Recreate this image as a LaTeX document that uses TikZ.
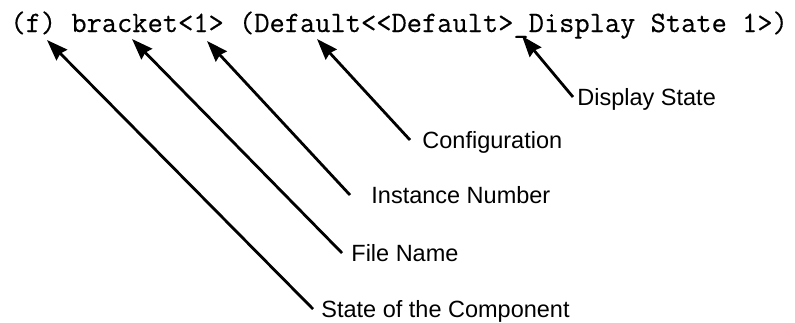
\documentclass[tikz,border=0pt]{standalone}
\usepackage{fontspec}
\setsansfont{Liberation Sans}
\newfontfamily\codefont{Latin Modern Mono}[FakeBold=0.4]
\usetikzlibrary{arrows.meta}
\tikzset{
  every picture/.style={line width=2.8pt},
  code/.style={font=\codefont\fontsize{29.6}{32}\selectfont, inner sep=0pt},
  callout/.style={font=\sffamily\fontsize{23.5}{26}\selectfont, anchor=west, inner ysep=0pt, text height=17pt, text depth=0pt},
  pointer/.style={-{Stealth[length=21pt, width=15pt, inset=2pt]}, line width=2.8pt},
}
\begin{document}
\begin{tikzpicture}[x=1pt, y=-1pt]
  \useasboundingbox (0,0) rectangle (795,322);
  \node[code, anchor=base west] (title) at (9,32) {(f) bracket<1> (Default<<Default>\_Display State 1>)};
  % tip under the title, tail at the label, gap to the text
  \foreach \n/\tx/\ty/\ux/\uy/\gap/\txt in {
      state/47/40/313/309/7pt/State of the Component,
      file/132/39/342/253/8pt/File Name,
      inst/207/41/350/195/20pt/Instance Number,
      conf/317/39/410/140/11pt/Configuration,
      disp/522/36/573/97/3pt/Display State} {
    \coordinate (tip-\n) at (\tx,\ty);
    \node[callout, inner xsep=\gap] (lbl-\n) at (\ux,\uy) {\txt};
    \draw[pointer] (lbl-\n.west) -- (tip-\n);
  }
\end{tikzpicture}
\end{document}
